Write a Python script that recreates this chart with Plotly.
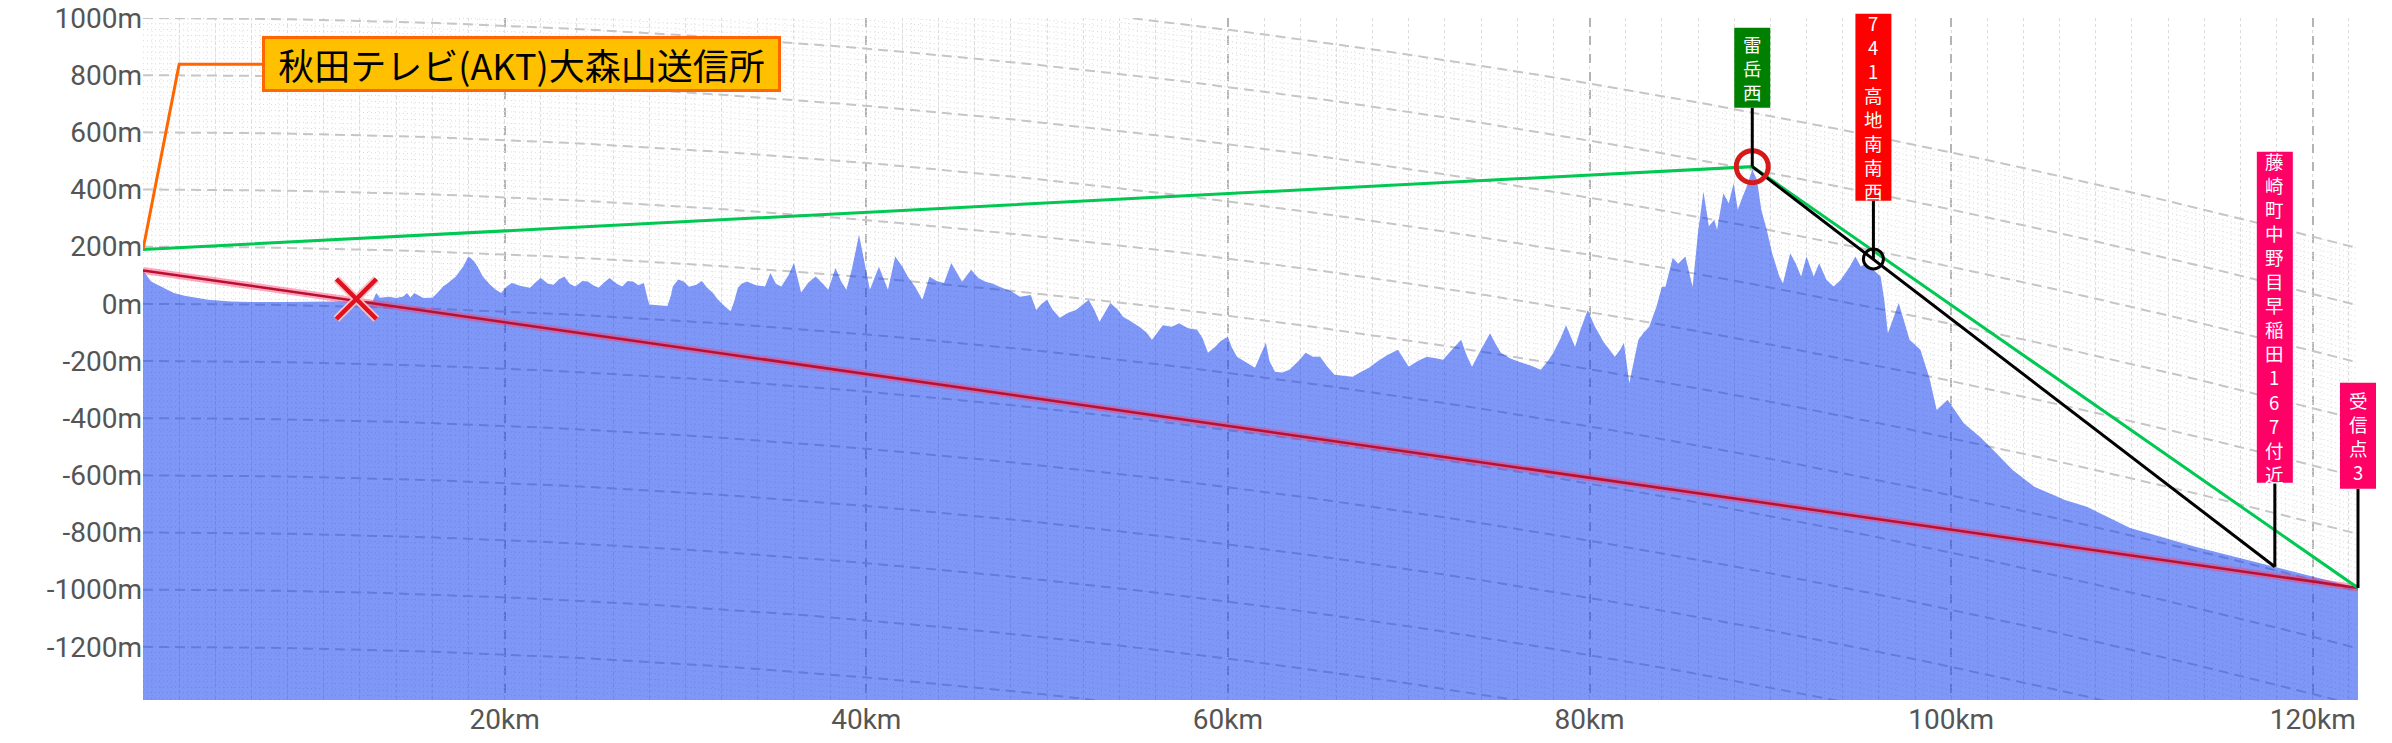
import numpy as np
import plotly.graph_objects as go

# ---------------- data (plotted, curvature-corrected elevations) ----------------
dist_km = [0.0, 0.45, 1.1, 1.7, 2.3, 3.0, 3.6, 4.9, 6.0, 8.0, 10.0, 12.0, 12.7, 12.9, 13.1, 13.6, 14.0,
           14.4, 14.6, 14.8, 15.0, 15.5, 16.0, 16.3, 16.6, 16.9, 17.3, 17.7, 18.0, 18.3, 18.5, 18.8,
           19.2, 19.5, 19.8, 20.1, 20.4, 20.9, 21.4, 21.7, 22.0, 22.4, 22.7, 23.0, 23.3, 23.6, 23.9,
           24.3, 24.6, 24.9, 25.2, 25.5, 25.8, 26.2, 26.5, 26.8, 27.1, 27.4, 27.7, 27.9, 28.0, 28.5,
           29.0, 29.2, 29.3, 29.6, 29.9, 30.2, 30.6, 30.9, 31.2, 31.5, 31.8, 32.2, 32.5, 32.7, 32.9,
           33.1, 33.4, 33.9, 34.4, 34.7, 35.0, 35.3, 35.7, 36.0, 36.2, 36.4, 36.8, 37.2, 37.6, 37.9,
           38.3, 38.6, 38.9, 39.2, 39.6, 39.9, 40.2, 40.7, 41.0, 41.2, 41.6, 42.0, 42.3, 42.7, 43.1,
           43.5, 43.9, 44.3, 44.7, 45.0, 45.3, 45.8, 46.2, 46.6, 47.0, 47.5, 48.0, 48.5, 49.1, 49.4,
           49.7, 50.0, 50.3, 50.7, 51.2, 51.6, 52.0, 52.3, 52.6, 52.9, 53.2, 53.5, 53.9, 54.2, 54.6,
           55.1, 55.5, 55.8, 56.1, 56.4, 56.9, 57.3, 57.8, 58.3, 58.6, 58.9, 59.3, 59.6, 60.0, 60.2,
           60.5, 61.0, 61.5, 61.8, 62.1, 62.3, 62.6, 63.0, 63.4, 63.9, 64.3, 64.7, 65.1, 65.5, 65.9,
           66.4, 66.9, 67.3, 67.8, 68.3, 68.8, 69.4, 69.7, 70.0, 70.5, 71.0, 71.5, 71.9, 72.4, 72.9,
           73.2, 73.5, 74.0, 74.5, 74.8, 75.1, 75.6, 76.1, 76.7, 77.3, 77.7, 78.0, 78.4, 78.7, 79.0,
           79.2, 79.5, 79.9, 80.3, 80.8, 81.1, 81.4, 81.7, 81.9, 82.2, 82.5, 82.7, 83.0, 83.3, 83.7,
           84.0, 84.2, 84.6, 84.9, 85.3, 85.7, 86.0, 86.3, 86.6, 86.9, 87.05, 87.4, 87.7, 87.97, 88.2,
           88.4, 88.7, 89.0, 89.26, 89.5, 89.8, 90.1, 90.5, 90.7, 91.1, 91.4, 91.7, 92.0, 92.4, 92.7,
           93.1, 93.5, 93.9, 94.4, 94.7, 95.0, 95.3, 95.7, 96.1, 96.3, 96.5, 97.1, 97.7, 98.3, 98.8,
           99.2, 99.8, 100.7, 101.6, 102.5, 103.4, 104.6, 106.3, 107.5, 109.9, 113.5, 117.9, 122.5]
elev_m = [117, 78, 56, 38, 28, 21, 14, 8, 6, 6, 7, 8, 10, 38, 21, 25, 20,
          26, 38, 22, 38, 20, 21, 40, 61, 75, 96, 130, 166, 150, 131, 95,
          67, 50, 38, 60, 73, 62, 56, 75, 90, 70, 67, 85, 96, 70, 61,
          80, 78, 65, 56, 75, 90, 70, 61, 80, 78, 65, 73, 20, -2, -5,
          -8, 30, 61, 85, 78, 60, 67, 80, 56, 40, 14, -10, -26, 10, 56,
          70, 78, 65, 61, 108, 70, 61, 100, 143, 90, 40, 75, 96, 70, 49,
          125, 80, 49, 120, 242, 150, 49, 130, 80, 49, 166, 130, 95, 60, 14,
          95, 80, 73, 143, 110, 77, 119, 90, 77, 70, 56, 45, 25, 31, -22,
          0, 14, -20, -49, -30, -22, 0, 14, -20, -63, -30, 3, -20, -45, -60,
          -80, -100, -126, -100, -75, -80, -68, -85, -91, -120, -171, -150, -130, -115, -150,
          -185, -205, -224, -180, -136, -200, -238, -240, -231, -200, -171, -185, -185, -220, -248,
          -252, -255, -240, -224, -200, -180, -161, -190, -220, -200, -185, -190, -196, -160, -126,
          -180, -220, -160, -103, -140, -171, -190, -203, -215, -231, -200, -171, -120, -75, -120,
          -150, -90, -22, -80, -136, -160, -185, -160, -136, -278, -180, -126, -100, -80, -10,
          60, 60, 161, 140, 166, 60, 250, 393, 271, 294, 259, 387, 352, 422, 329,
          364, 411, 469, 434, 329, 259, 177, 96, 72, 177, 142, 96, 166, 96, 142,
          84, 61, 84, 131, 166, 131, 142, 119, 96, 14, -103, 3, -126, -161, -260,
          -371, -336, -418, -466, -523, -581, -640, -686, -710, -784, -850, -920, -994]

# key points of the path
tx_km, tx_ground_m, tx_antenna_m = 0.0, 117, 190
peak_km, peak_m = 89.0, 480        # 雷岳西
ridge_km, ridge_m = 95.7, 157      # 741高地南南西
near_km, near_m = 117.9, -920      # 藤崎町中野目早稲田167付近
rx_km, rx_m = 122.5, -994          # 受信点3
block_km, block_m = 11.8, 17       # blocked point (X)

tx_label = "秋田テレビ(AKT)大森山送信所"
point_labels = ["雷岳西", "741高地南南西", "藤崎町中野目早稲田167付近", "受信点3"]

x_ticks = [20, 40, 60, 80, 100, 120]
x_ticktext = [f"{v}km" for v in x_ticks]
y_ticks = list(range(-1200, 1001, 200))
y_ticktext = [f"{v}m" for v in y_ticks]

# ---------------- style / layout constants ----------------
X_MAX = 122.5
Y_MIN, Y_MAX = -1386, 1000
CURV = 0.067          # earth curvature drop (m per km^2)
GRID_TOP = 1200       # highest curved elevation line


def px(v):  # data x -> paper
    return v / X_MAX


def py(v):  # data y -> paper
    return (v - Y_MIN) / (Y_MAX - Y_MIN)


fig = go.Figure()

# fine dotted curved lines (every 20 m)
xs = np.linspace(0, X_MAX, 90)
fx, fy = [], []
for h in range(GRID_TOP, -1601, -20):
    fx += list(xs) + [None]
    fy += list(h - CURV * xs ** 2) + [None]
fig.add_trace(go.Scatter(x=fx, y=fy, mode="lines", hoverinfo="skip",
                         line=dict(color="#d9d9d9", width=1, dash="1px,3px")))
# fine dotted vertical lines under the top curve
vx, vy = [], []
for xv in np.arange(0.5, X_MAX, 0.5):
    vx += [xv, xv, None]
    vy += [Y_MIN, min(Y_MAX, GRID_TOP - CURV * xv ** 2), None]
fig.add_trace(go.Scatter(x=vx, y=vy, mode="lines", hoverinfo="skip",
                         line=dict(color="#e2e2e2", width=1, dash="1px,3px")))
# major dashed curved lines (every 200 m)
mx, my = [], []
for h in range(GRID_TOP, -1601, -200):
    mx += list(xs) + [None]
    my += list(h - CURV * xs ** 2) + [None]
fig.add_trace(go.Scatter(x=mx, y=my, mode="lines", hoverinfo="skip",
                         line=dict(color="#c6c6c6", width=2, dash="10px,6px")))

# terrain
fig.add_trace(go.Scatter(x=[dist_km[0]] + dist_km + [dist_km[-1]],
                         y=[Y_MIN] + elev_m + [Y_MIN],
                         mode="lines", fill="toself", fillcolor="rgba(0,50,240,0.5)",
                         line=dict(width=0), hoverinfo="skip"))

# red line (ground-to-receiver) with halo
fig.add_trace(go.Scatter(x=[tx_km, rx_km], y=[tx_ground_m, rx_m], mode="lines",
                         line=dict(color="rgba(255,60,110,0.45)", width=7), hoverinfo="skip"))
fig.add_trace(go.Scatter(x=[tx_km, rx_km], y=[tx_ground_m, rx_m], mode="lines",
                         line=dict(color="#b8102e", width=2.5), hoverinfo="skip"))
# green line via 雷岳西
fig.add_trace(go.Scatter(x=[tx_km, peak_km, rx_km], y=[tx_antenna_m, peak_m, rx_m], mode="lines",
                         line=dict(color="#00c853", width=3), hoverinfo="skip"))
# black line from 雷岳西 to 藤崎町
fig.add_trace(go.Scatter(x=[peak_km, near_km], y=[peak_m, near_m], mode="lines",
                         line=dict(color="black", width=3), hoverinfo="skip"))

# circles
fig.add_trace(go.Scatter(x=[peak_km], y=[peak_m], mode="markers", hoverinfo="skip",
                         marker=dict(symbol="circle-open", size=32, color="#d61a1a",
                                     line=dict(color="#d61a1a", width=5))))
fig.add_trace(go.Scatter(x=[ridge_km], y=[ridge_m], mode="markers", hoverinfo="skip",
                         marker=dict(symbol="circle-open", size=20, color="black",
                                     line=dict(color="black", width=3))))
# X mark
fig.add_trace(go.Scatter(x=[block_km], y=[block_m], mode="markers", hoverinfo="skip",
                         marker=dict(symbol="x-thin", size=40, color="#f6c0c4",
                                     line=dict(color="#f6c0c4", width=8))))
fig.add_trace(go.Scatter(x=[block_km], y=[block_m], mode="markers", hoverinfo="skip",
                         marker=dict(symbol="x-thin", size=40, color="#e0101e",
                                     line=dict(color="#e0101e", width=4.5))))

# label boxes with vertical text (one stacked text per box); paper refs so nothing is clipped
label_x = [peak_km, ridge_km, near_km, rx_km]
label_pt = [peak_m, ridge_m, near_m, rx_m]
label_bottom = [686, 361, -626, -647]
label_h = [80, 187, 331, 106]
label_bg = ["#008000", "#ff0000", "#ff0066", "#ff0066"]
BOX_W = 36
for lx, lp, lb, lh, bg, txt in zip(label_x, label_pt, label_bottom, label_h, label_bg, point_labels):
    fig.add_shape(type="line", xref="paper", yref="paper",
                  x0=px(lx), x1=px(lx), y0=py(lp), y1=py(lb),
                  line=dict(color="black", width=3), layer="above")
    fig.add_shape(type="rect", xref="paper", yref="paper",
                  xsizemode="pixel", xanchor=px(lx), x0=-BOX_W / 2, x1=BOX_W / 2,
                  ysizemode="pixel", yanchor=py(lb), y0=0, y1=lh,
                  fillcolor=bg, line=dict(width=0), layer="above")
    fig.add_annotation(x=px(lx), y=py(lb), xref="paper", yref="paper",
                       xanchor="center", yanchor="middle", yshift=lh / 2, borderpad=0,
                       showarrow=False, text="<br>".join(list(txt)), align="center",
                       font=dict(family="Noto Sans CJK JP", size=18.5, color="white"))

# transmitter leader + label
lead_corner_km, lead_end_km, lead_y = 2.0, 6.6, 838
fig.add_trace(go.Scatter(x=[tx_km, lead_corner_km, lead_end_km], y=[tx_antenna_m, lead_y, lead_y],
                         mode="lines", line=dict(color="#ff6600", width=3), hoverinfo="skip"))
fig.add_annotation(x=lead_end_km, y=lead_y, xref="x", yref="y", xanchor="left", yanchor="middle",
                   showarrow=False, text=tx_label, width=513, height=50,
                   bgcolor="#ffc000", bordercolor="#ff6600", borderwidth=3, borderpad=0,
                   font=dict(family="Noto Sans CJK JP", size=36, color="black"))

fig.update_layout(
    width=2392, height=743,
    margin=dict(l=143, r=34, t=18, b=43, pad=0),
    paper_bgcolor="white", plot_bgcolor="white",
    showlegend=False,
    xaxis=dict(range=[0, X_MAX], tickvals=x_ticks, ticktext=x_ticktext, automargin=False,
               showgrid=True, gridcolor="#b4b4b4", griddash="dash", gridwidth=1.5,
               minor=dict(tickmode="linear", tick0=0, dtick=2, showgrid=True,
                          gridcolor="#dcdcdc", griddash="dot", gridwidth=1),
               zeroline=False, showline=False, ticks="",
               tickfont=dict(family="Roboto", size=28, color="#555555")),
    yaxis=dict(range=[Y_MIN, Y_MAX], tickvals=y_ticks, ticktext=y_ticktext, automargin=False,
               showgrid=False, zeroline=False, showline=False, ticks="",
               tickfont=dict(family="Roboto", size=28, color="#555555")),
)

# remove the default 8px page margin so the figure sits at the window origin
fig.write_html("out.html", config={"displayModeBar": False},
               post_script="document.body.style.margin='0';")
